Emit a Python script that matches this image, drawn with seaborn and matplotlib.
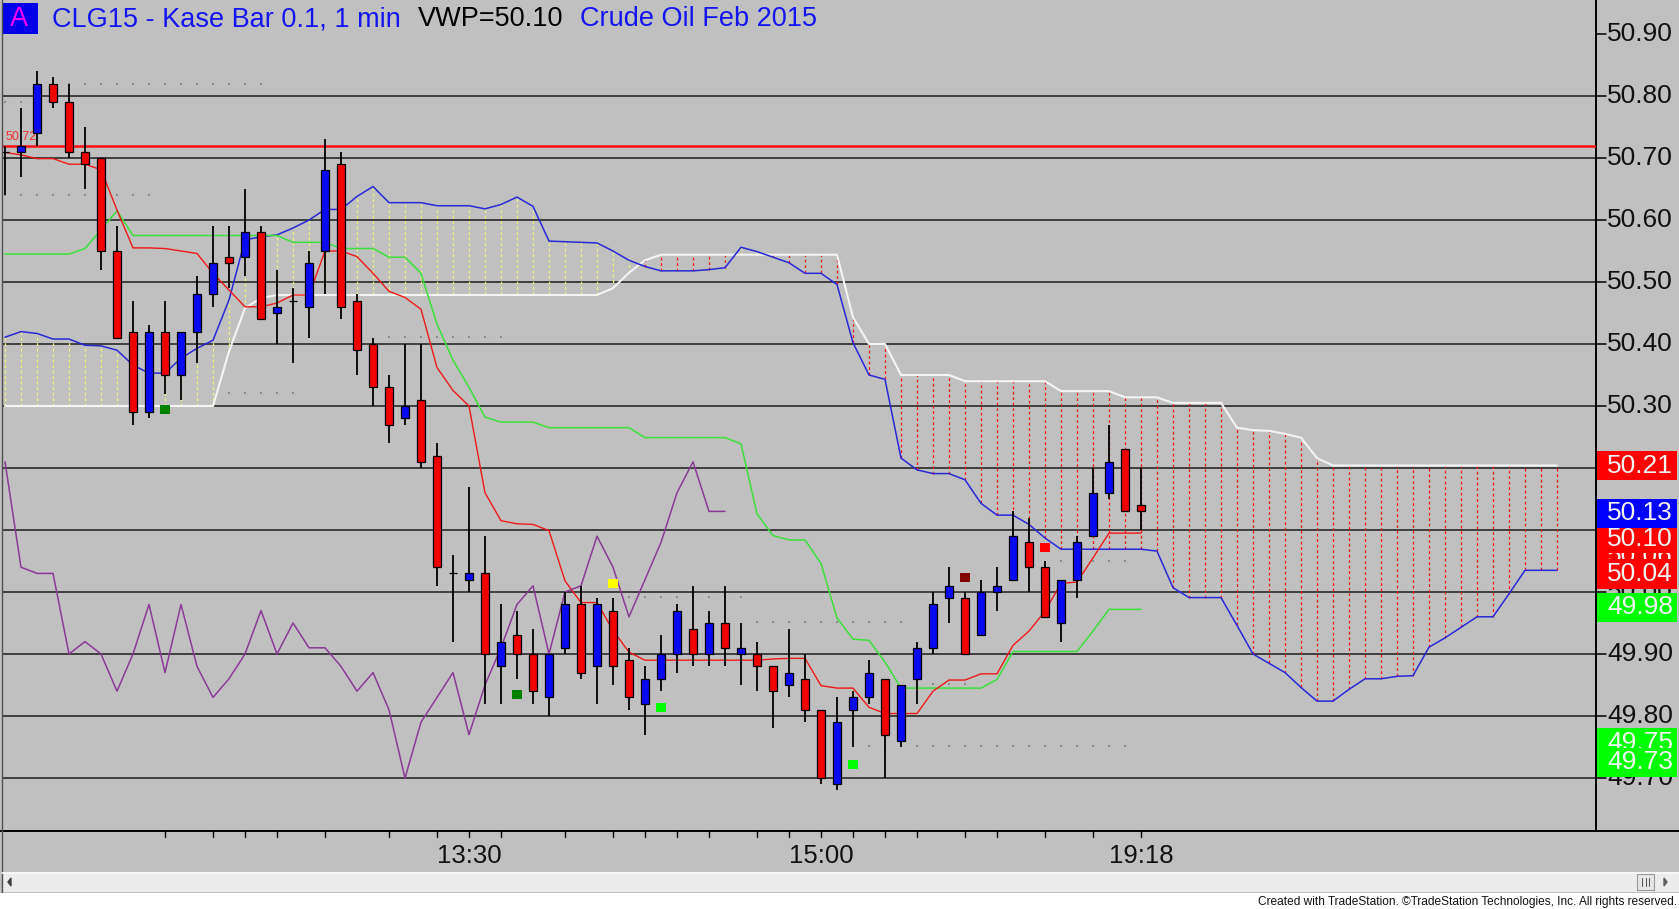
import numpy as np
import pandas as pd
import matplotlib
matplotlib.use("Agg")
import matplotlib.pyplot as plt
import matplotlib.transforms as mtrans
from matplotlib.patches import Rectangle, Polygon
from matplotlib.lines import Line2D
from matplotlib import font_manager as fm
import seaborn as sns

# ---------------- data ----------------
open_ = [50.71, 50.71, 50.74, 50.82, 50.79, 50.71, 50.70, 50.55, 50.42, 50.29,
         50.42, 50.35, 50.42, 50.48, 50.54, 50.54, 50.58, 50.45, 50.47, 50.46,
         50.55, 50.69, 50.47, 50.40, 50.33, 50.28, 50.31, 50.22, 50.03, 50.02,
         50.03, 49.88, 49.93, 49.90, 49.83, 49.91, 49.98, 49.88, 49.97, 49.89,
         49.82, 49.86, 49.90, 49.94, 49.90, 49.95, 49.90, 49.90, 49.88, 49.85,
         49.86, 49.81, 49.69, 49.81, 49.83, 49.86, 49.76, 49.86, 49.91, 49.99,
         49.99, 49.93, 50.00, 50.02, 50.08, 50.04, 49.95, 50.02, 50.09, 50.16,
         50.23, 50.14]
high_ = [50.72, 50.78, 50.84, 50.83, 50.82, 50.75, 50.70, 50.59, 50.47, 50.43,
         50.47, 50.42, 50.51, 50.59, 50.59, 50.65, 50.59, 50.52, 50.49, 50.55,
         50.73, 50.71, 50.48, 50.41, 50.35, 50.40, 50.40, 50.24, 50.06, 50.17,
         50.09, 49.98, 49.97, 49.94, 49.90, 50.00, 50.01, 49.99, 49.99, 49.91,
         49.88, 49.93, 49.98, 50.01, 49.97, 50.01, 49.95, 49.92, 49.88, 49.94,
         49.90, 49.81, 49.83, 49.84, 49.89, 49.86, 49.85, 49.92, 50.00, 50.04,
         50.00, 50.02, 50.04, 50.13, 50.12, 50.05, 50.02, 50.09, 50.20, 50.27,
         50.23, 50.20]
low_ = [50.64, 50.67, 50.72, 50.78, 50.70, 50.65, 50.52, 50.41, 50.27, 50.28,
        50.32, 50.31, 50.37, 50.46, 50.49, 50.51, 50.44, 50.40, 50.37, 50.41,
        50.48, 50.44, 50.35, 50.30, 50.24, 50.27, 50.20, 50.01, 49.92, 50.00,
        49.82, 49.82, 49.86, 49.82, 49.80, 49.90, 49.86, 49.82, 49.85, 49.81,
        49.77, 49.84, 49.87, 49.88, 49.88, 49.88, 49.85, 49.84, 49.78, 49.83,
        49.79, 49.69, 49.68, 49.75, 49.82, 49.70, 49.75, 49.82, 49.90, 49.95,
        49.90, 49.93, 49.97, 50.02, 50.00, 49.96, 49.92, 49.99, 50.09, 50.15,
        50.13, 50.10]
close_ = [50.71, 50.72, 50.82, 50.79, 50.71, 50.69, 50.55, 50.41, 50.29, 50.42,
          50.35, 50.42, 50.48, 50.53, 50.53, 50.58, 50.44, 50.46, 50.47, 50.53,
          50.68, 50.46, 50.39, 50.33, 50.27, 50.30, 50.21, 50.04, 50.03, 50.03,
          49.90, 49.92, 49.90, 49.84, 49.90, 49.98, 49.87, 49.98, 49.88, 49.83,
          49.86, 49.90, 49.97, 49.90, 49.95, 49.91, 49.91, 49.88, 49.84, 49.87,
          49.81, 49.70, 49.79, 49.83, 49.87, 49.77, 49.85, 49.91, 49.98, 50.01,
          49.90, 50.00, 50.01, 50.09, 50.04, 49.96, 50.02, 50.08, 50.16, 50.21,
          50.13, 50.13]

# Ichimoku lines
tenkan = [50.709, 50.705, 50.699, 50.699, 50.690, 50.690, 50.681, 50.616, 50.555, 50.555,
          50.554, 50.550, 50.546, 50.514, 50.487, 50.460, 50.460, 50.466, 50.479, 50.479,
          50.550, 50.550, 50.541, 50.514, 50.485, 50.475, 50.456, 50.362, 50.325, 50.300,
          50.160, 50.115, 50.110, 50.109, 50.099, 50.018, 49.983, 49.983, 49.938, 49.903,
          49.890, 49.890, 49.890, 49.890, 49.890, 49.890, 49.890, 49.890, 49.892, 49.893,
          49.893, 49.849, 49.845, 49.845, 49.814, 49.804, 49.804, 49.804, 49.840, 49.858,
          49.858, 49.868, 49.868, 49.914, 49.937, 49.969, 50.014, 50.016, 50.055, 50.095,
          50.095, 50.095]
kijun = [50.545, 50.545, 50.545, 50.545, 50.545, 50.554, 50.584, 50.615, 50.575, 50.575,
         50.575, 50.575, 50.575, 50.575, 50.575, 50.575, 50.575, 50.575, 50.564, 50.564,
         50.564, 50.554, 50.554, 50.554, 50.540, 50.540, 50.514, 50.432, 50.374, 50.330,
         50.282, 50.274, 50.274, 50.274, 50.265, 50.265, 50.265, 50.265, 50.265, 50.265,
         50.249, 50.249, 50.249, 50.249, 50.249, 50.249, 50.239, 50.126, 50.091, 50.084,
         50.084, 50.046, 49.958, 49.924, 49.922, 49.887, 49.845, 49.845, 49.845, 49.845,
         49.845, 49.845, 49.859, 49.904, 49.904, 49.904, 49.904, 49.904, 49.937, 49.972,
         49.972, 49.972]
senkou_a = [50.411, 50.420, 50.417, 50.408, 50.408, 50.398, 50.397, 50.390, 50.366, 50.353,
            50.353, 50.377, 50.393, 50.406, 50.471, 50.568, 50.573, 50.576, 50.587, 50.600,
            50.617, 50.617, 50.638, 50.654, 50.628, 50.628, 50.628, 50.623, 50.623, 50.623,
            50.618, 50.625, 50.637, 50.622, 50.566, 50.565, 50.564, 50.563, 50.550, 50.535,
            50.525, 50.518, 50.518, 50.518, 50.520, 50.523, 50.556, 50.549, 50.540, 50.531,
            50.514, 50.514, 50.496, 50.402, 50.350, 50.343, 50.216, 50.197, 50.191, 50.191,
            50.181, 50.143, 50.124, 50.124, 50.109, 50.087, 50.069, 50.069, 50.069, 50.069,
            50.069, 50.069, 50.066, 50.007, 49.991, 49.991, 49.991, 49.946, 49.900, 49.885,
            49.870, 49.846, 49.824, 49.824, 49.843, 49.860, 49.860, 49.864, 49.865, 49.911,
            49.926, 49.943, 49.960, 49.960, 49.997, 50.035, 50.035, 50.035]
senkou_b = [50.300, 50.300, 50.300, 50.300, 50.300, 50.300, 50.300, 50.300, 50.300, 50.300,
            50.300, 50.300, 50.300, 50.300, 50.388, 50.458, 50.474, 50.479, 50.479, 50.479,
            50.479, 50.479, 50.479, 50.479, 50.479, 50.479, 50.479, 50.479, 50.479, 50.479,
            50.479, 50.479, 50.479, 50.479, 50.479, 50.479, 50.479, 50.479, 50.490, 50.515,
            50.535, 50.544, 50.544, 50.544, 50.544, 50.544, 50.544, 50.544, 50.544, 50.544,
            50.544, 50.544, 50.544, 50.443, 50.400, 50.400, 50.350, 50.350, 50.350, 50.350,
            50.340, 50.340, 50.340, 50.340, 50.340, 50.340, 50.324, 50.324, 50.324, 50.324,
            50.314, 50.314, 50.314, 50.305, 50.305, 50.305, 50.305, 50.265, 50.261, 50.260,
            50.255, 50.249, 50.216, 50.204, 50.204, 50.204, 50.204, 50.204, 50.204, 50.204,
            50.204, 50.204, 50.204, 50.204, 50.204, 50.204, 50.204, 50.204]
chikou_shift = 26   # lagging span = closes drawn 26 bars back

# signal dots
dot_bars = [10, 32, 38, 41, 53, 60, 65]
dot_prices = [50.295, 49.834, 50.014, 49.814, 49.722, 50.024, 50.072]
dot_colors = ["#008000", "#008000", "#FFFF00", "#00FF00", "#00FF00", "#800000", "#FF0000"]

# faint dotted level markers (start bar, end bar, price)
dotted_start = [4, 0, 0, 14, 24, 39, 47, 58, 54, 66]
dotted_end = [16, 1, 9, 18, 31, 46, 56, 60, 70, 70]
dotted_price = [50.819, 50.791, 50.640, 50.321, 50.412, 49.992, 49.952, 49.852, 49.752, 50.050]

ref_level = 50.72
grid_levels = [49.70, 49.80, 49.90, 50.00, 50.10, 50.20, 50.30, 50.40, 50.50, 50.60, 50.70, 50.80]
price_ticks = [49.70, 49.80, 49.90, 50.00, 50.10, 50.30, 50.40, 50.50, 50.60, 50.70, 50.80, 50.90]
price_tick_labels = ["49.70", "49.80", "49.90", "50.00", "50.10", "50.30",
                     "50.40", "50.50", "50.60", "50.70", "50.80", "50.90"]
# price boxes on the axis, in drawing order
box_labels = ["49.75", "49.73", "49.98", "50.06", "50.10", "50.04", "50.13", "50.21"]
box_centers = [49.757, 49.725, 49.975, 50.058, 50.086, 50.029, 50.127, 50.204]
box_colors = ["#00FF00", "#00FF00", "#00FF00", "#FF0000", "#FF0000", "#FF0000", "#0000FF", "#FF0000"]

time_tick_bars = [10, 13, 15, 17, 20, 24, 27, 29, 31, 35, 38, 40, 42, 44, 47, 49, 51,
                  53, 55, 57, 60, 62, 65, 68, 71]
time_label_bars = [29, 51, 71]
time_labels = ["13:30", "15:00", "19:18"]

# ---------------- layout helpers ----------------
W, H = 1679, 909
BG = "#C0C0C0"
def fx(x): return x / W
def fy(y): return 1 - y / H

Y0_PIX, PPX = 96.0, 620.0          # 50.80 at y=96 px, 620 px per 1.00
def p_at(y): return 50.80 - (y - Y0_PIX) / PPX

AX_BOTTOM = 830.6
XL, XR = 2, 1596
ylim = (p_at(AX_BOTTOM), p_at(0))
xlim = ((XL - 5) / 16.0, (XR - 5) / 16.0)

sns.set_theme(style="white")
names = {f.name for f in fm.fontManager.ttflist}
MAIN_FONT = "Liberation Sans" if "Liberation Sans" in names else "DejaVu Sans"
NARROW_FONT = "Liberation Sans Narrow" if "Liberation Sans Narrow" in names else MAIN_FONT
plt.rcParams["font.family"] = [MAIN_FONT, "DejaVu Sans"]

fig = plt.figure(figsize=(W / 100, H / 100), dpi=100, facecolor=BG)

ax = fig.add_axes([fx(XL), fy(AX_BOTTOM), (XR - XL) / W, AX_BOTTOM / H])
ax.set_facecolor(BG)
ax.set_xlim(*xlim)
ax.set_ylim(*ylim)
for s in ["top", "left", "bottom"]:
    ax.spines[s].set_visible(False)
ax.spines["right"].set_color("black")
ax.spines["right"].set_linewidth(1.4)
ax.set_xticks([])
ax.set_yticks([])

# gridlines
for g in grid_levels:
    ax.axhline(g, color="#1c1c1c", lw=1.1, zorder=1)

# faint dotted levels
for s0, s1, p in zip(dotted_start, dotted_end, dotted_price):
    xs = np.arange(s0, s1 + 1)
    ax.scatter(xs, np.full(len(xs), p), s=1.6, color="#8C8C8C", marker="s",
               linewidths=0, zorder=1.5)

# cloud (dashed verticals)
n_cloud = len(senkou_a)
cx = np.arange(n_cloud)
sa = np.array(senkou_a)
sb = np.array(senkou_b)
cloud_cols = np.where(sa >= sb, "#F2F27A", "#FF1010")
ax.vlines(cx, np.minimum(sa, sb), np.maximum(sa, sb), colors=list(cloud_cols),
          linestyles=(0, (2.2, 2.2)), lw=0.9, zorder=2)

# lines with seaborn
df_cloud = pd.DataFrame({"bar": cx, "a": sa, "b": sb})
sns.lineplot(data=df_cloud, x="bar", y="b", ax=ax, color="#F4F4F4", lw=1.5,
             estimator=None, sort=False, zorder=3)
sns.lineplot(data=df_cloud, x="bar", y="a", ax=ax, color="#2828D8", lw=1.1,
             estimator=None, sort=False, zorder=3)

nb = len(close_)
bars = np.arange(nb)
df = pd.DataFrame({"bar": bars, "open": open_, "high": high_, "low": low_,
                   "close": close_, "tenkan": tenkan, "kijun": kijun})
sns.lineplot(data=df, x="bar", y="kijun", ax=ax, color="#3CE03C", lw=1.1,
             estimator=None, sort=False, zorder=3)
sns.lineplot(data=df, x="bar", y="tenkan", ax=ax, color="#F01818", lw=1.0,
             estimator=None, sort=False, zorder=3)
chik = pd.DataFrame({"bar": bars[:nb - chikou_shift], "lag": df["close"].values[chikou_shift:]})
sns.lineplot(data=chik, x="bar", y="lag", ax=ax, color="#8A3A96", lw=1.1,
             estimator=None, sort=False, zorder=3)

# reference line
ax.axhline(ref_level, color="#FF1010", lw=1.8, zorder=3.5)
ax.text(0.06, ref_level + 0.004, "50.72", color="#F03030", fontsize=9, ha="left",
        va="bottom", zorder=3.6)

# candles
o = df["open"].values; c = df["close"].values
colors = np.where(c >= o, "#0A0AF0", "#F00000")
ax.vlines(bars, df["low"], df["high"], color="black", lw=1.3, zorder=4)
ax.bar(bars, np.abs(c - o), bottom=np.minimum(o, c), width=0.5, color=list(colors),
       edgecolor="black", linewidth=0.9, zorder=5)

# dots
for b, p, col in zip(dot_bars, dot_prices, dot_colors):
    sns.scatterplot(x=[b], y=[p], ax=ax, color=col, marker="s", s=42,
                    edgecolor="none", zorder=6, legend=False)
ax.set_xlabel("")
ax.set_ylabel("")
ax.set_xlim(*xlim)
ax.set_ylim(*ylim)

# time axis
trans = mtrans.blended_transform_factory(ax.transData, ax.transAxes)
tick_len = 6.5 / AX_BOTTOM
for b in time_tick_bars:
    ax.add_line(Line2D([b, b], [0, -tick_len], transform=trans, color="black",
                       lw=1.0, clip_on=False))
for b, t in zip(time_label_bars, time_labels):
    ax.text(b, -(856 - AX_BOTTOM) / AX_BOTTOM, t, transform=trans, ha="center",
            va="center", fontsize=21 if NARROW_FONT != MAIN_FONT else 18.5,
            family=NARROW_FONT, color="#111111", clip_on=False)

# price label column
lax = fig.add_axes([fx(XR + 1), fy(AX_BOTTOM), (W - XR - 1) / W, AX_BOTTOM / H])
lax.set_xlim(0, 1)
lax.set_ylim(*ylim)
lax.axis("off")
lax.patch.set_visible(False)
for p, lab in zip(price_ticks, price_tick_labels):
    lax.plot([0, 0.11], [p, p], color="black", lw=1.1, zorder=1)
    lax.text(0.122, p, lab, ha="left", va="center", fontsize=19, color="#111111",
             zorder=1.5, clip_on=True)
box_h = 0.047
for k, (lab, cen, col) in enumerate(zip(box_labels, box_centers, box_colors)):
    z = 10 + 2 * k
    lax.add_patch(Rectangle((0.0, cen - box_h / 2), 0.976, box_h, facecolor=col,
                            edgecolor="none", zorder=z))
    t = lax.text(0.122, cen, lab, ha="left", va="center", fontsize=19,
                 color="#F2F2F2", zorder=z + 1)
    t.set_clip_on(True)

# figure-level decorations
fig.add_artist(Line2D([fx(0), fx(W)], [fy(AX_BOTTOM), fy(AX_BOTTOM)], color="black", lw=1.4))
fig.add_artist(Line2D([fx(1.5), fx(1.5)], [fy(0), fy(892)], color="#505050", lw=1.0))
# scrollbar strip and white footer
fig.add_artist(Rectangle((fx(2), fy(892)), 1 - fx(2), 20 / H, transform=fig.transFigure,
                         facecolor="#ECECEC", edgecolor="none"))
fig.add_artist(Line2D([fx(2), fx(W)], [fy(872.5), fy(872.5)], color="#FAFAFA", lw=1.2))
fig.add_artist(Rectangle((0, 0), 1, 16 / H, transform=fig.transFigure,
                         facecolor="white", edgecolor="none"))
fig.add_artist(Polygon([[fx(8), fy(882)], [fx(11), fy(878)], [fx(11), fy(886)]],
                       closed=True, transform=fig.transFigure, color="#404040"))
fig.add_artist(Polygon([[fx(1667), fy(882)], [fx(1664), fy(878)], [fx(1664), fy(886)]],
                       closed=True, transform=fig.transFigure, color="#606060"))
fig.add_artist(Rectangle((fx(1637), fy(890)), 17 / W, 16 / H, transform=fig.transFigure,
                         facecolor="#E6E6E6", edgecolor="#9A9A9A", lw=0.8))
for xx in (1642, 1645.5, 1649):
    fig.add_artist(Line2D([fx(xx), fx(xx)], [fy(878), fy(886)], color="#505050", lw=0.7))
fig.text(fx(1677), fy(902), "Created with TradeStation. \u00a9TradeStation Technologies, Inc. All rights reserved.",
         ha="right", va="center", fontsize=8.6, family=NARROW_FONT, color="#111111")

# title bar
fig.add_artist(Rectangle((fx(2), fy(34)), 35.5 / W, 31 / H, transform=fig.transFigure,
                         facecolor="#0000E8", edgecolor="none"))
fig.text(fx(19.5), fy(19), "A", ha="center", va="center", fontsize=19.5, color="#FF00FF")
fig.text(fx(52), fy(19), "CLG15 - Kase Bar 0.1, 1 min", ha="left", va="center",
         fontsize=19.5, color="#1414F0")
fig.text(fx(418), fy(19), "VWP=50.10", ha="left", va="center", fontsize=19.5, color="#000000")
fig.text(fx(580), fy(19), "Crude Oil Feb 2015", ha="left", va="center", fontsize=19.5,
         color="#1414F0")

fig.savefig("out.png", dpi=100, facecolor=BG)
